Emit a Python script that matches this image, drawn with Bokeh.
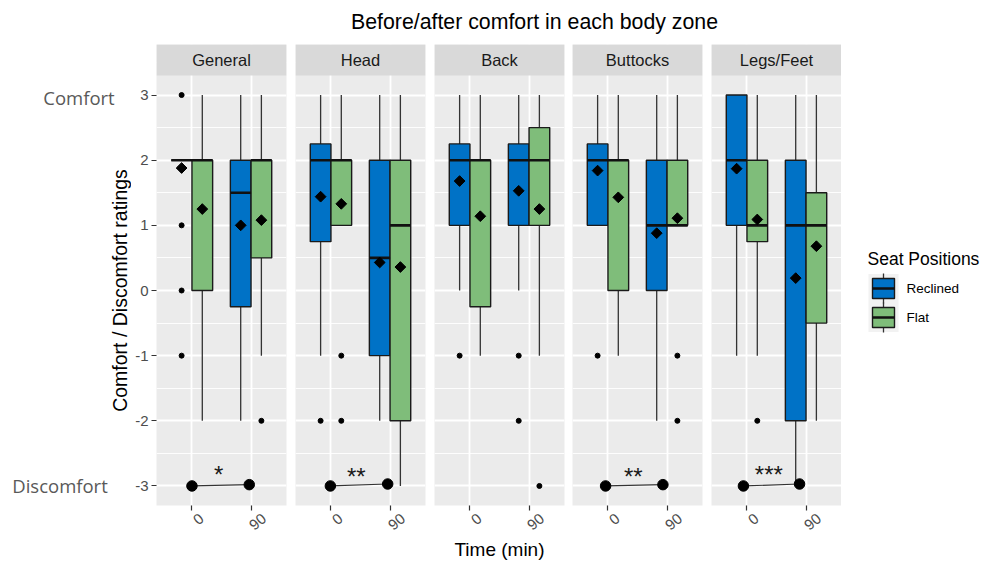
import math
from bokeh.plotting import figure
from bokeh.layouts import row, column
from bokeh.models import Range1d, FixedTicker, BoxAnnotation, Label, ColumnDataSource, LinearAxis
from bokeh.embed import file_html
from bokeh.resources import INLINE
from bokeh.core.properties import value

# ---------------- data ----------------
zones = ["General", "Head", "Back", "Buttocks", "Legs/Feet"]
time_labels = ["0", "90"]
seat_positions = ["Reclined", "Flat"]
# each list: [Reclined 0, Flat 0, Reclined 90, Flat 90]
box_lower = {
    "General":   [2, -2, -2, -1],
    "Head":      [-1, 1, -2, -3],
    "Back":      [0, -1, 0, -1],
    "Buttocks":  [1, -1, -2, 1],
    "Legs/Feet": [-1, -1, -3, -2],
}
box_q1 = {
    "General":   [2, 0, -0.25, 0.5],
    "Head":      [0.75, 1, -1, -2],
    "Back":      [1, -0.25, 1, 1],
    "Buttocks":  [1, 0, 0, 1],
    "Legs/Feet": [1, 0.75, -2, -0.5],
}
box_median = {
    "General":   [2, 2, 1.5, 2],
    "Head":      [2, 2, 0.5, 1],
    "Back":      [2, 2, 2, 2],
    "Buttocks":  [2, 2, 1, 1],
    "Legs/Feet": [2, 1, 1, 1],
}
box_q3 = {
    "General":   [2, 2, 2, 2],
    "Head":      [2.25, 2, 2, 2],
    "Back":      [2.25, 2, 2.25, 2.5],
    "Buttocks":  [2.25, 2, 2, 2],
    "Legs/Feet": [3, 2, 2, 1.5],
}
box_upper = {
    "General":   [2, 3, 3, 3],
    "Head":      [3, 3, 3, 3],
    "Back":      [3, 3, 3, 3],
    "Buttocks":  [3, 3, 3, 3],
    "Legs/Feet": [3, 3, 3, 3],
}
box_mean = {
    "General":   [1.88, 1.25, 1.0, 1.08],
    "Head":      [1.44, 1.33, 0.43, 0.36],
    "Back":      [1.68, 1.14, 1.53, 1.25],
    "Buttocks":  [1.84, 1.43, 0.88, 1.11],
    "Legs/Feet": [1.87, 1.09, 0.19, 0.68],
}
box_outliers = {
    "General":   [[3, 1, 0, -1], [], [], [-2]],
    "Head":      [[-2], [-1, -2], [], []],
    "Back":      [[-1], [], [-1, -2], [-3]],
    "Buttocks":  [[-1], [], [], [-1, -2]],
    "Legs/Feet": [[], [-2], [], []],
}
# significance brackets (before vs after)
sig_zone = ["General", "Head", "Buttocks", "Legs/Feet"]
sig_text = ["*", "**", "**", "***"]
sig_x0 = [1.0, 0.99, 0.96, 0.94]
sig_x1 = [1.97, 1.96, 1.93, 1.89]
sig_y0 = [-3.0, -3.0, -3.0, -3.0]
sig_y1 = [-2.98, -2.97, -2.98, -2.97]
sig_tx = [1.45, 1.43, 1.43, 1.37]
sig_ty = [-2.70, -2.73, -2.73, -2.70]
y_ticks = [-3, -2, -1, 0, 1, 2, 3]

# ---------------- style ----------------
COL = {"Reclined": "#0072C6", "Flat": "#7FBD7A"}
FONT = "Liberation Sans"
Y0, Y1 = -3.3, 3.3
PANEL_PX = 430
STRIP_PX = 31
FRAME_H = PANEL_PX + STRIP_PX
YTOP = Y1 + STRIP_PX * (Y1 - Y0) / PANEL_PX
BOTTOM = 52
GAPS = [9, 9, 8, 9, 0]
DODGE = 0.175
LAB_SHIFT = [0.164, 0.22]   # rotated tick-label anchor offsets (x units)

def make_panel(i, zone):
    first = i == 0
    p = figure(frame_width=130, frame_height=FRAME_H,
               x_range=Range1d(0.4, 2.6), y_range=Range1d(Y0, YTOP),
               output_backend="svg", toolbar_location=None,
               y_axis_location="left" if first else None,
               min_border_top=0, min_border_bottom=BOTTOM,
               min_border_left=25 if first else 0, min_border_right=GAPS[i])
    p.background_fill_color = "#EBEBEB"
    p.border_fill_color = "white"
    p.outline_line_color = None

    p.ygrid.ticker = FixedTicker(ticks=y_ticks, minor_ticks=[t + 0.5 for t in y_ticks])
    p.ygrid.grid_line_color = "white"
    p.ygrid.grid_line_width = 1.8
    p.ygrid.minor_grid_line_color = "white"
    p.ygrid.minor_grid_line_width = 0.9
    p.xgrid.ticker = FixedTicker(ticks=[1, 2])
    p.xgrid.grid_line_color = "white"
    p.xgrid.grid_line_width = 1.8

    # axis 1: tick marks only
    xa = p.xaxis[0]
    xa.ticker = FixedTicker(ticks=[1, 2])
    xa.major_label_overrides = {1: "", 2: ""}
    xa.major_label_text_font_size = "1px"
    xa.major_label_standoff = 0
    xa.axis_line_color = None
    xa.major_tick_in = 0
    xa.major_tick_out = 5
    xa.major_tick_line_color = "#333333"
    xa.major_tick_line_width = 1.2
    xa.minor_tick_line_color = None

    # axis 2: rotated tick labels
    pos = [round(1 + LAB_SHIFT[0], 3), round(2 + LAB_SHIFT[1], 3)]
    xb = LinearAxis(ticker=FixedTicker(ticks=pos),
                    major_label_overrides={pos[0]: time_labels[0], pos[1]: time_labels[1]})
    xb.major_label_orientation = 0.7
    xb.axis_line_color = None
    xb.major_tick_line_color = None
    xb.minor_tick_line_color = None
    xb.major_tick_in = 0
    xb.major_tick_out = 0
    xb.major_label_text_color = "#4D4D4D"
    xb.major_label_text_font = FONT
    xb.major_label_text_font_size = "15px"
    xb.major_label_standoff = 6
    if zone == "Back":
        xb.axis_label = "Time (min)"
        xb.axis_label_text_font = FONT
        xb.axis_label_text_font_size = "19px"
        xb.axis_label_text_font_style = "normal"
        xb.axis_label_text_color = "#000000"
        xb.axis_label_standoff = 1
    p.add_layout(xb, "below")

    if first:
        ya = p.yaxis[0]
        ya.ticker = FixedTicker(ticks=y_ticks)
        ya.major_label_overrides = {t: str(t) for t in y_ticks}
        ya.axis_line_color = None
        ya.major_tick_in = 0
        ya.major_tick_out = 5
        ya.major_tick_line_color = "#333333"
        ya.major_tick_line_width = 1.2
        ya.minor_tick_line_color = None
        ya.major_label_text_color = "#4D4D4D"
        ya.major_label_text_font = FONT
        ya.major_label_text_font_size = "15px"
        ya.major_label_standoff = 3

    xs, cols = [], []
    for t in (1, 2):
        for sp in seat_positions:
            xs.append(t - DODGE if sp == "Reclined" else t + DODGE)
            cols.append(COL[sp])
    src = ColumnDataSource(dict(
        x=xs, left=[x - DODGE for x in xs], right=[x + DODGE for x in xs],
        lo=box_lower[zone], q1=box_q1[zone], med=box_median[zone],
        q3=box_q3[zone], hi=box_upper[zone], mean=box_mean[zone], color=cols))

    p.segment(x0="x", y0="lo", x1="x", y1="q1", source=src, line_color="#333333", line_width=1.3)
    p.segment(x0="x", y0="q3", x1="x", y1="hi", source=src, line_color="#333333", line_width=1.3)
    p.quad(left="left", right="right", bottom="q1", top="q3", source=src,
           fill_color="color", line_color="#1A1A1A", line_width=1.4)
    p.segment(x0="left", y0="med", x1="right", y1="med", source=src,
              line_color="#111111", line_width=2.6)

    ox, oy = [], []
    for x, outs in zip(xs, box_outliers[zone]):
        for v in outs:
            ox.append(x)
            oy.append(v)
    if ox:
        p.scatter(ox, oy, marker="circle", size=5, fill_color="black", line_color="black")
    p.scatter(x="x", y="mean", source=src, marker="square", size=7.6, angle=math.pi / 4,
              fill_color="black", line_color="black")

    if zone in sig_zone:
        k = sig_zone.index(zone)
        p.segment(x0=[sig_x0[k]], y0=[sig_y0[k]], x1=[sig_x1[k]], y1=[sig_y1[k]],
                  line_color="#333333", line_width=1.2)
        p.scatter([sig_x0[k], sig_x1[k]], [sig_y0[k], sig_y1[k]], marker="circle", size=10.5,
                  fill_color="black", line_color="black")
        p.text(x=[sig_tx[k]], y=[sig_ty[k] - 0.12], text=[sig_text[k]], text_align="center",
               text_baseline="middle", text_font=value(FONT), text_font_size="24px",
               text_color="#1A1A1A")

    strip = BoxAnnotation(bottom=Y1, fill_color="#D9D9D9", fill_alpha=1.0, line_color=None)
    p.add_layout(strip)
    p.add_layout(Label(x=1.5, y=(Y1 + YTOP) / 2, text=zone, text_align="center",
                       text_baseline="middle", text_font=FONT, text_font_size="16.5px",
                       text_color="#1A1A1A"))
    return p

panels = [make_panel(i, z) for i, z in enumerate(zones)]

# left annotation figure
LW = 131
left = figure(frame_width=LW, frame_height=FRAME_H, x_range=Range1d(0, LW),
              y_range=Range1d(Y0, YTOP), output_backend="svg", toolbar_location=None,
              x_axis_location=None, y_axis_location=None,
              min_border_top=0, min_border_bottom=BOTTOM, min_border_left=0, min_border_right=0)
left.xgrid.visible = False
left.ygrid.visible = False
left.outline_line_color = None
left.background_fill_color = "white"
left.text(x=[78.5, 59.5], y=[2.96, -3.0], text=["Comfort", "Discomfort"], text_align="center",
          text_baseline="middle", text_font=value("Open Sans"), text_font_size="18.5px",
          text_color="#595959")
left.text(x=[119], y=[0], text=["Comfort / Discomfort ratings"], angle=math.pi / 2,
          text_align="center", text_baseline="middle", text_font=value(FONT),
          text_font_size="19.5px", text_color="#000000")

# legend figure
LGW = 148
leg = figure(frame_width=LGW, frame_height=FRAME_H, x_range=Range1d(0, LGW),
             y_range=Range1d(FRAME_H, 0), output_backend="svg", toolbar_location=None,
             x_axis_location=None, y_axis_location=None,
             min_border_top=0, min_border_bottom=BOTTOM, min_border_left=0, min_border_right=0)
leg.xgrid.visible = False
leg.ygrid.visible = False
leg.outline_line_color = None
leg.background_fill_color = "white"
leg.text(x=[26], y=[214], text=["Seat Positions"], text_align="left", text_baseline="middle",
         text_font=value(FONT), text_font_size="17.5px", text_color="#000000")
key_yc = [244, 273]
kx0, kx1 = 31, 53
kxc = (kx0 + kx1) / 2
leg.quad(left=[kx0 - 4] * 2, right=[kx1 + 4] * 2,
         bottom=[y - 14.5 for y in key_yc], top=[y + 14.5 for y in key_yc],
         fill_color="#F2F2F2", line_color=None)
leg.segment(x0=[kxc] * 2, y0=[y - 15 for y in key_yc], x1=[kxc] * 2, y1=[y + 15 for y in key_yc],
            line_color="#333333", line_width=1.3)
leg.quad(left=[kx0] * 2, right=[kx1] * 2, bottom=[y - 10 for y in key_yc],
         top=[y + 10 for y in key_yc], fill_color=[COL[s] for s in seat_positions],
         line_color="#1A1A1A", line_width=1.4)
leg.segment(x0=[kx0] * 2, y0=key_yc, x1=[kx1] * 2, y1=key_yc, line_color="#111111", line_width=2.4)
leg.text(x=[65, 65], y=key_yc, text=seat_positions, text_align="left", text_baseline="middle",
         text_font=value(FONT), text_font_size="13.5px", text_color="#000000")

# title figure
TW = 989
TH = 44
title = figure(frame_width=TW, frame_height=TH, x_range=Range1d(0, TW), y_range=Range1d(TH, 0),
               output_backend="svg", toolbar_location=None,
               x_axis_location=None, y_axis_location=None, min_border=0)
title.xgrid.visible = False
title.ygrid.visible = False
title.outline_line_color = None
title.text(x=[534], y=[21], text=["Before/after comfort in each body zone"], text_align="center",
           text_baseline="middle", text_font=value(FONT), text_font_size="21.3px",
           text_color="#000000")

layout = column(title, row(left, *panels, leg, spacing=0), spacing=0)

with open("out.html", "w") as f:
    f.write(file_html(layout, INLINE))
